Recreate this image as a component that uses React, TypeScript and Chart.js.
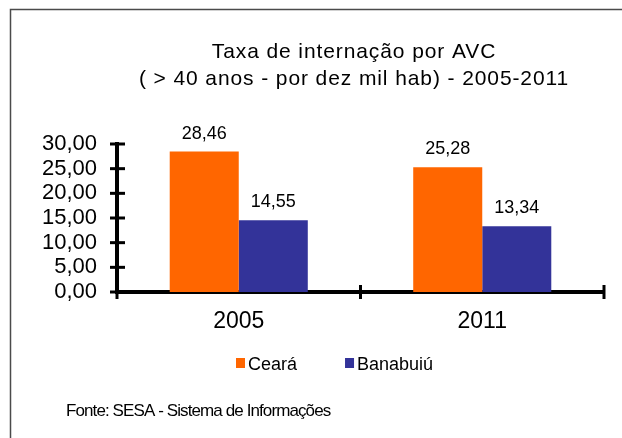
import React, { useEffect, useRef } from 'react';
import { Chart, registerables } from 'chart.js';

Chart.register(...registerables);

const titleLines = ['Taxa de internação por AVC', '( > 40 anos - por dez mil hab) - 2005-2011'];
const categories = ['2005', '2011'];
const seriesNames = ['Ceará', 'Banabuiú'];
const cearaValues = [28.46, 25.28];
const banabuiuValues = [14.55, 13.34];
const seriesColors = ['#FF6600', '#333399'];
const yMin = 0;
const yMax = 30;
const yStep = 5;
const sourceNote = 'Fonte: SESA - Sistema de Informações';

const FONT = '"Liberation Sans", Arial, sans-serif';
const fmt = (v: number) => v.toFixed(2).replace('.', ',');

const decorPlugin = {
  id: 'decor',
  beforeDraw(chart: any) {
    const ctx = chart.ctx;
    ctx.save();
    ctx.fillStyle = '#ffffff';
    ctx.fillRect(0, 0, chart.width, chart.height);
    ctx.strokeStyle = '#4a4a4a';
    ctx.lineWidth = 1.5;
    ctx.beginPath();
    ctx.moveTo(10.5, chart.height);
    ctx.lineTo(10.5, 9.5);
    ctx.lineTo(chart.width, 9.5);
    ctx.stroke();
    ctx.restore();
  },
  afterDraw(chart: any) {
    const ctx = chart.ctx;
    const xs = chart.scales.x;
    const ys = chart.scales.y;
    ctx.save();
    // crossing tick marks
    ctx.strokeStyle = '#000';
    ctx.lineWidth = 3;
    ys.ticks.forEach((_t: any, i: number) => {
      const y = ys.getPixelForTick(i);
      ctx.beginPath();
      ctx.moveTo(xs.left - 7, y);
      ctx.lineTo(xs.left + 8, y);
      ctx.stroke();
    });
    const n = categories.length;
    const w = (xs.right - xs.left) / n;
    for (let k = 0; k <= n; k++) {
      const x = xs.left + k * w;
      ctx.beginPath();
      ctx.moveTo(x, ys.bottom - 7);
      ctx.lineTo(x, ys.bottom + 7);
      ctx.stroke();
    }

    // title
    ctx.fillStyle = '#000';
    ctx.textAlign = 'center';
    ctx.textBaseline = 'alphabetic';
    ctx.font = `21px ${FONT}`;
    (ctx as any).letterSpacing = '0.9px';
    ctx.fillText(titleLines[0], 354, 58);
    ctx.fillText(titleLines[1], 354, 85);
    (ctx as any).letterSpacing = '0px';

    // data labels
    ctx.font = `18px ${FONT}`;
    chart.data.datasets.forEach((ds: any, di: number) => {
      const meta = chart.getDatasetMeta(di);
      meta.data.forEach((bar: any, i: number) => {
        ctx.fillText(fmt(ds.data[i]), bar.x, bar.y - 13);
      });
    });

    // legend
    ctx.textAlign = 'left';
    ctx.font = `18px ${FONT}`;
    let lx = 236;
    chart.data.datasets.forEach((ds: any) => {
      ctx.fillStyle = ds.backgroundColor;
      ctx.fillRect(lx, 358, 9, 10);
      ctx.fillStyle = '#000';
      ctx.fillText(ds.label, lx + 12, 369.5);
      lx += 12 + ctx.measureText(ds.label).width + 48;
    });

    // source note
    ctx.font = `17px ${FONT}`;
    (ctx as any).letterSpacing = '-0.9px';
    ctx.fillText(sourceNote, 66, 416);
    (ctx as any).letterSpacing = '0px';
    ctx.restore();
  },
};

export default function App() {
  const ref = useRef<HTMLCanvasElement>(null);
  useEffect(() => {
    document.body.style.margin = '0';
    document.body.style.overflow = 'hidden';
    const chart = new Chart(ref.current as HTMLCanvasElement, {
      type: 'bar',
      data: {
        labels: categories,
        datasets: [
          { label: seriesNames[0], data: cearaValues, backgroundColor: seriesColors[0], borderWidth: 0 },
          { label: seriesNames[1], data: banabuiuValues, backgroundColor: seriesColors[1], borderWidth: 0 },
        ],
      },
      options: {
        responsive: false,
        animation: false,
        devicePixelRatio: 1,
        layout: { padding: { top: 144, bottom: 106, left: 0, right: 18 } },
        datasets: { bar: { categoryPercentage: 0.567, barPercentage: 1 } },
        plugins: { legend: { display: false }, title: { display: false }, tooltip: { enabled: false } },
        scales: {
          x: {
            type: 'category',
            offset: true,
            grid: { display: false, drawTicks: false },
            border: { display: true, width: 4, color: '#000' },
            ticks: { font: { family: FONT, size: 23 }, color: '#000', padding: 16, maxRotation: 0, autoSkip: false },
            afterFit: (s: any) => { s.height = 40; },
          },
          y: {
            min: yMin,
            max: yMax,
            grid: { display: false, drawTicks: false },
            border: { display: true, width: 4, color: '#000' },
            ticks: {
              stepSize: yStep,
              autoSkip: false,
              font: { family: FONT, size: 22, lineHeight: 1 },
              color: '#000',
              padding: 20,
              callback: (v: any) => fmt(Number(v)),
            },
            afterFit: (s: any) => { s.width = 117; },
          },
        },
      },
      plugins: [decorPlugin],
    });
    return () => chart.destroy();
  }, []);
  return (
    <div style={{ width: 622, height: 438 }}>
      <canvas ref={ref} width={622} height={438} style={{ display: 'block', width: 622, height: 438 }} />
    </div>
  );
}
